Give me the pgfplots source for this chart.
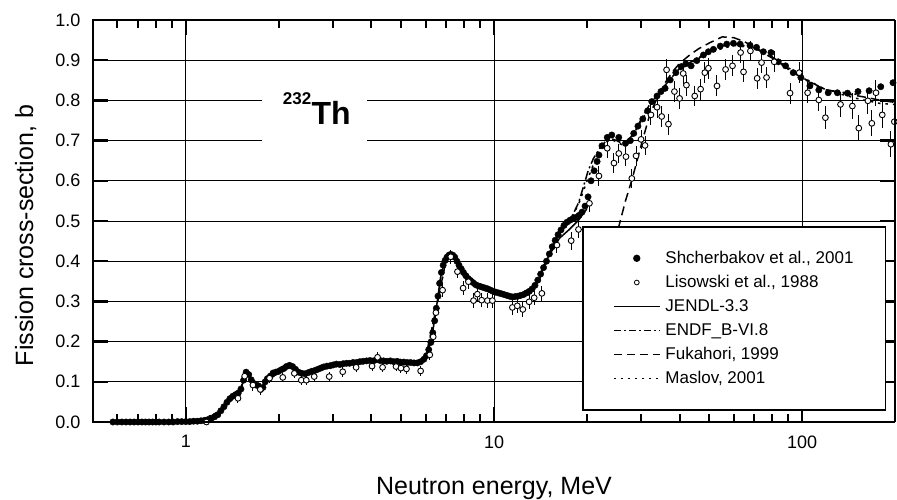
\documentclass[border=0pt]{standalone}
\usepackage{fontspec}
\setmainfont{Liberation Sans}
\usepackage{pgfplots}
\usepackage{pgfplotstable}
\pgfplotsset{compat=1.18}

\pgfplotstableread{
E y
0.58 0.000
0.60 0.000
0.62 0.000
0.64 0.000
0.66 0.000
0.68 0.000
0.70 0.000
0.72 0.000
0.74 0.000
0.76 0.000
0.78 0.000
0.80 0.000
0.82 0.000
0.85 0.000
0.88 0.000
0.91 0.000
0.94 0.001
0.97 0.001
1.00 0.001
1.03 0.001
1.06 0.002
1.09 0.002
1.12 0.003
1.15 0.004
1.18 0.006
1.21 0.009
1.24 0.013
1.27 0.018
1.30 0.028
1.33 0.038
1.36 0.049
1.39 0.058
1.42 0.064
1.45 0.068
1.48 0.072
1.51 0.082
1.54 0.104
1.57 0.124
1.60 0.118
1.63 0.105
1.66 0.096
1.69 0.092
1.72 0.090
1.75 0.081
1.78 0.086
1.81 0.100
1.84 0.108
1.88 0.114
1.92 0.122
1.96 0.124
2.00 0.126
2.04 0.130
2.08 0.133
2.12 0.138
2.17 0.141
2.22 0.138
2.27 0.131
2.32 0.124
2.38 0.121
2.44 0.120
2.50 0.123
2.56 0.126
2.62 0.128
2.68 0.131
2.74 0.134
2.80 0.137
2.87 0.139
2.94 0.140
3.01 0.142
3.08 0.144
3.16 0.143
3.24 0.145
3.32 0.146
3.40 0.146
3.49 0.148
3.58 0.148
3.67 0.150
3.76 0.151
3.86 0.152
3.96 0.153
4.06 0.152
4.16 0.155
4.27 0.153
4.38 0.152
4.49 0.151
4.61 0.152
4.73 0.150
4.85 0.151
4.97 0.149
5.10 0.149
5.23 0.148
5.36 0.148
5.50 0.147
5.64 0.147
5.78 0.150
5.92 0.156
6.04 0.165
6.14 0.180
6.24 0.198
6.33 0.222
6.42 0.252
6.50 0.283
6.58 0.313
6.66 0.345
6.75 0.372
6.84 0.390
6.94 0.402
7.04 0.410
7.14 0.415
7.24 0.417
7.35 0.415
7.46 0.410
7.58 0.400
7.70 0.390
7.83 0.381
7.96 0.372
8.10 0.364
8.24 0.357
8.39 0.352
8.54 0.347
8.70 0.342
8.86 0.339
9.03 0.337
9.20 0.335
9.38 0.333
9.56 0.331
9.75 0.328
9.94 0.325
10.14 0.323
10.35 0.321
10.56 0.319
10.78 0.317
11.00 0.315
11.23 0.313
11.47 0.311
11.71 0.312
11.96 0.313
12.21 0.315
12.47 0.317
12.74 0.321
13.01 0.325
13.29 0.331
13.58 0.340
13.87 0.353
14.17 0.368
14.48 0.384
14.80 0.400
15.12 0.418
15.45 0.436
15.79 0.452
16.14 0.466
16.50 0.478
16.87 0.489
17.25 0.497
17.64 0.502
18.04 0.506
18.45 0.509
18.87 0.514
19.30 0.522
19.74 0.537
20.19 0.560
20.65 0.600
21.12 0.625
21.60 0.648
21.90 0.664
22.40 0.687
23.30 0.708
24.10 0.714
25.40 0.708
26.70 0.693
27.70 0.700
28.40 0.718
29.30 0.736
30.40 0.754
31.50 0.774
32.50 0.797
33.80 0.811
34.80 0.822
35.90 0.830
37.30 0.851
38.90 0.869
40.50 0.884
41.90 0.891
43.60 0.886
45.50 0.899
47.80 0.913
49.60 0.921
51.50 0.927
54.20 0.935
56.90 0.940
59.80 0.942
62.90 0.940
67.70 0.937
71.10 0.932
74.80 0.921
79.20 0.919
83.60 0.896
88.30 0.886
93.50 0.869
99.00 0.857
105.9 0.836
113.2 0.826
121.4 0.819
130.0 0.819
140.2 0.818
151.7 0.822
164.8 0.824
179.8 0.834
197.0 0.844
}\shch

\pgfplotstableread{
E y e
1.167 0.000 0.006
1.477 0.059 0.012
1.552 0.114 0.012
1.651 0.092 0.014
1.745 0.081 0.014
1.870 0.109 0.012
2.064 0.111 0.012
2.25 0.121 0.012
2.37 0.104 0.012
2.46 0.104 0.012
2.61 0.113 0.012
2.92 0.113 0.012
3.23 0.125 0.012
3.57 0.136 0.012
4.02 0.139 0.012
4.19 0.161 0.012
4.35 0.136 0.012
4.81 0.138 0.012
4.99 0.134 0.012
5.20 0.132 0.012
5.78 0.127 0.012
6.19 0.167 0.014
6.35 0.212 0.014
6.48 0.272 0.016
6.81 0.328 0.017
7.24 0.411 0.017
7.61 0.374 0.017
7.94 0.333 0.018
8.26 0.349 0.018
8.58 0.302 0.018
8.83 0.318 0.018
9.12 0.303 0.018
9.52 0.302 0.018
9.88 0.302 0.018
11.47 0.285 0.018
11.9 0.289 0.018
12.4 0.280 0.018
13.0 0.299 0.018
13.5 0.309 0.018
14.3 0.320 0.018
16.0 0.440 0.020
17.8 0.451 0.022
18.8 0.479 0.022
20.4 0.544 0.022
21.9 0.612 0.024
23.3 0.681 0.024
24.5 0.644 0.024
25.4 0.668 0.024
26.8 0.660 0.024
28.0 0.606 0.024
28.9 0.662 0.024
30.0 0.703 0.024
30.9 0.688 0.024
32.3 0.764 0.026
33.8 0.783 0.026
35.0 0.760 0.026
36.3 0.876 0.026
36.8 0.741 0.026
38.5 0.822 0.026
40.0 0.805 0.026
41.1 0.867 0.026
42.1 0.838 0.026
44.8 0.811 0.026
46.8 0.828 0.026
48.3 0.869 0.026
49.6 0.880 0.026
52.9 0.836 0.026
56.4 0.877 0.026
59.4 0.886 0.026
63.1 0.919 0.026
64.5 0.871 0.026
67.9 0.923 0.026
71.4 0.855 0.026
73.8 0.894 0.026
76.6 0.857 0.026
81.1 0.896 0.026
91.3 0.818 0.026
97.8 0.869 0.026
104.1 0.819 0.026
113.2 0.801 0.028
118.9 0.757 0.028
133.1 0.790 0.032
145.4 0.786 0.032
152.6 0.731 0.032
163.3 0.799 0.032
168.2 0.743 0.032
173.5 0.819 0.032
181.8 0.764 0.032
194.0 0.691 0.032
199.0 0.747 0.032
}\lis

\pgfplotstableread{
E y
0.58 0.000
0.90 0.000
1.10 0.002
1.20 0.007
1.25 0.014
1.30 0.027
1.35 0.045
1.40 0.060
1.45 0.068
1.50 0.078
1.55 0.110
1.58 0.122
1.62 0.110
1.68 0.094
1.75 0.083
1.80 0.095
1.88 0.113
2.00 0.125
2.15 0.138
2.30 0.126
2.45 0.121
2.70 0.131
3.00 0.141
3.50 0.147
4.00 0.152
4.50 0.151
5.00 0.149
5.60 0.147
5.90 0.154
6.10 0.172
6.30 0.215
6.50 0.283
6.70 0.358
6.90 0.398
7.10 0.413
7.30 0.416
7.60 0.398
8.00 0.370
8.50 0.348
9.00 0.337
10.0 0.324
11.0 0.314
12.0 0.309
13.0 0.318
14.0 0.352
14.5 0.385
15.0 0.411
16.3 0.457
17.5 0.478
18.8 0.502
20.0 0.530
}\jendl

\pgfplotstableread{
E y
0.58 0.000
1.10 0.002
1.30 0.028
1.50 0.080
1.58 0.120
1.75 0.085
2.00 0.126
2.20 0.137
2.45 0.122
3.00 0.142
4.00 0.152
5.60 0.148
6.00 0.160
6.50 0.285
7.00 0.405
7.30 0.415
8.00 0.372
9.00 0.338
11.0 0.315
12.0 0.312
13.0 0.322
14.0 0.360
15.0 0.415
16.0 0.460
17.0 0.490
18.0 0.515
18.8 0.545
19.5 0.585
20.2 0.625
21.0 0.655
22.0 0.680
23.0 0.698
24.0 0.705
25.0 0.700
26.5 0.690
28.0 0.712
30.0 0.752
32.0 0.790
35.0 0.828
40.0 0.880
45.0 0.902
50.0 0.922
55.0 0.936
60.0 0.941
70.0 0.931
80.0 0.905
90.0 0.878
100.0 0.855
120.0 0.826
150.0 0.815
}\endf

\pgfplotstableread{
E y
20.0 0.250
22.0 0.330
24.0 0.425
25.4 0.486
26.7 0.550
28.0 0.602
29.0 0.645
30.3 0.700
32.0 0.764
34.0 0.810
36.0 0.845
38.0 0.872
40.0 0.892
43.0 0.912
46.0 0.928
50.0 0.943
55.0 0.958
60.0 0.956
65.0 0.946
70.0 0.932
80.0 0.908
90.0 0.878
100.0 0.858
106.0 0.844
120.0 0.826
140.0 0.816
160.0 0.808
180.0 0.800
200.0 0.795
}\fuka

\pgfplotstableread{
E y
0.58 0.000
1.10 0.002
1.30 0.027
1.50 0.079
1.57 0.121
1.75 0.084
2.00 0.125
2.20 0.138
2.45 0.121
3.00 0.141
4.00 0.152
5.60 0.147
6.00 0.158
6.50 0.284
7.00 0.404
7.30 0.416
8.00 0.371
9.00 0.337
11.0 0.314
12.0 0.311
13.0 0.320
14.0 0.356
15.0 0.412
16.0 0.458
17.0 0.488
18.0 0.512
19.0 0.550
20.0 0.598
21.0 0.640
22.0 0.675
23.0 0.696
24.0 0.703
26.0 0.690
28.0 0.710
30.0 0.748
33.0 0.800
36.0 0.836
40.0 0.876
45.0 0.900
50.0 0.920
60.0 0.937
70.0 0.930
80.0 0.908
100.0 0.858
120.0 0.825
150.0 0.805
180.0 0.792
200.0 0.790
}\maslov

\begin{document}
\begin{tikzpicture}
\begin{axis}[
  name=ax,
  at={(93pt,77pt)}, anchor=south west,
  scale only axis, width=802pt, height=402pt,
  xmode=log, xmin=0.5, xmax=200, ymin=0, ymax=1,
  xtick={1,10,100}, xticklabels={1,10,100},
  minor xtick={0.6,0.7,0.8,0.9,2,3,4,5,6,7,8,9,20,30,40,50,60,70,80,90},
  ytick={0,0.1,0.2,0.3,0.4,0.5,0.6,0.7,0.8,0.9,1.0},
  /pgf/number format/assume math mode=true,
  tick label style={font=\fontsize{18}{18}\selectfont},
  xticklabel style={yshift=-10pt},
  yticklabel style={xshift=-9pt, /pgf/number format/.cd, fixed, fixed zerofill, precision=1},
  tick align=inside, tick pos=both,
  major tick length=15pt, minor tick length=8pt,
  major tick style={black, line width=2.4pt},
  minor tick style={black, line width=2pt},
  xmajorgrids, ymajorgrids,
  major grid style={black, line width=0.9pt},
  axis line style={draw=none},
  legend cell align=left,
  legend style={at={(0.61,0.4876)}, anchor=north west, draw=black, line width=1.8pt,
    fill=white, inner xsep=30pt, inner ysep=22.5pt, row sep=6.4pt,
    font=\fontsize{17}{17}\selectfont,
    /tikz/every odd column/.append style={column sep=3pt},
    /tikz/every even column/.append style={column sep=18pt}},
]
\addplot[black, line width=1.5pt, forget plot] table[x=E, y=y] {\jendl};
\addplot[black, line width=1.5pt, dash pattern=on 9pt off 3pt on 2pt off 3pt, forget plot] table[x=E, y=y] {\endf};
\addplot[black, line width=1.5pt, dash pattern=on 9pt off 5pt, forget plot] table[x=E, y=y] {\fuka};
\addplot[black, line width=1.5pt, dash pattern=on 2.5pt off 5pt, forget plot] table[x=E, y=y] {\maslov};
\addplot[only marks, mark=*, mark size=3.2pt, mark options={fill=black, draw=black}, forget plot] table[x=E, y=y] {\shch};
\addplot[only marks, forget plot, mark=*, mark size=2.9pt, mark options={fill=white, draw=black, line width=0.9pt},
  error bars/.cd, y dir=both, y explicit, error mark=none,
  error bar style={black, line width=1pt}] table[x=E, y=y, y error=e] {\lis};

\addlegendimage{legend image code/.code={\path[draw=none, fill=none] (0pt,-3pt) rectangle (46pt,3pt); \fill[black] (23pt,0pt) circle (2.7pt);}}
\addlegendentry{Shcherbakov et al., 2001}
\addlegendimage{legend image code/.code={\path[draw=none, fill=none] (0pt,-3pt) rectangle (46pt,3pt); \draw[black, fill=white, line width=0.8pt] (23pt,0pt) circle (2.4pt);}}
\addlegendentry{Lisowski et al., 1988}
\addlegendimage{legend image code/.code={\path[draw=none, fill=none] (0pt,-3pt) rectangle (46pt,3pt); \draw[black, line width=1.3pt] (0pt,0pt) -- (46pt,0pt);}}
\addlegendentry{JENDL-3.3}
\addlegendimage{legend image code/.code={\path[draw=none, fill=none] (0pt,-3pt) rectangle (46pt,3pt); \draw[black, line width=1.3pt, dash pattern=on 7pt off 3pt on 2pt off 3pt] (0pt,0pt) -- (46pt,0pt);}}
\addlegendentry{ENDF\_B-VI.8}
\addlegendimage{legend image code/.code={\path[draw=none, fill=none] (0pt,-3pt) rectangle (46pt,3pt); \draw[black, line width=1.3pt, dash pattern=on 8pt off 5pt] (0pt,0pt) -- (46pt,0pt);}}
\addlegendentry{Fukahori, 1999}
\addlegendimage{legend image code/.code={\path[draw=none, fill=none] (0pt,-3pt) rectangle (46pt,3pt); \draw[black, line width=1.3pt, dash pattern=on 2pt off 5pt] (0pt,0pt) -- (46pt,0pt);}}
\addlegendentry{Maslov, 2001}

\node[fill=white, inner sep=0pt, minimum width=105pt, minimum height=62pt] at (axis cs:2.624,0.75) {};
\node[anchor=base east, inner sep=0pt, font=\fontsize{17}{17}\selectfont\bfseries] at (axis cs:2.557,0.7886) {232};
\node[anchor=base west, inner sep=0pt, font=\fontsize{32}{32}\selectfont\bfseries] at (axis cs:2.557,0.7405) {Th};
\end{axis}
\draw[line width=2.8pt] (ax.north east) -- (ax.north west) -- (ax.south west) -- (ax.south east);
\draw[line width=1.3pt] (ax.south east) -- (ax.north east);
\node[anchor=base, inner sep=0pt, font=\fontsize{25}{25}\selectfont] at (494pt,5pt) {Neutron energy, MeV};
\node[anchor=base, rotate=90, inner sep=0pt, font=\fontsize{25}{25}\selectfont] at (33pt,263.5pt) {Fission cross-section, b};
\pgfresetboundingbox
\useasboundingbox (0,0) rectangle (897pt,499pt);
\end{tikzpicture}
\end{document}
